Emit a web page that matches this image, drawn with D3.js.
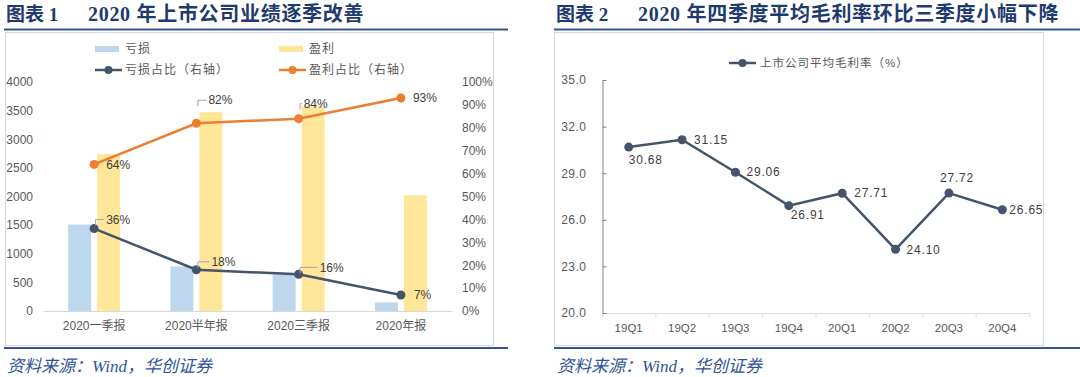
<!DOCTYPE html>
<html>
<head>
<meta charset="utf-8">
<script src="https://cdn.jsdelivr.net/npm/d3@7"></script>
<style>
  html, body { margin: 0; padding: 0; background: #fff; }
  svg { display: block; }
</style>
</head>
<body>
<svg id="chart" width="1080" height="377"></svg>
<script>
// ---- data: chart 1 ----
const categories = ['2020一季报', '2020半年报', '2020三季报', '2020年报'];
const lossCount = [1510, 780, 660, 150];
const profitCount = [2740, 3470, 3580, 2020];
const lossShare = [36, 18, 16, 7];
const profitShare = [64, 82, 84, 93];

// ---- data: chart 2 ----
const quarters = ['19Q1', '19Q2', '19Q3', '19Q4', '20Q1', '20Q2', '20Q3', '20Q4'];
const grossMargin = [30.68, 31.15, 29.06, 26.91, 27.71, 24.10, 27.72, 26.65];

const cjk = '"Liberation Sans", "Noto Sans CJK SC", sans-serif';
const titleFont = '"Liberation Serif", "Noto Sans CJK SC", serif';
const textColor = '#595959';
const navy = '#2F5597';

const svg = d3.select('#chart');
svg.append('rect').attr('width', 1080).attr('height', 377).attr('fill', '#fff');

// ---- page furniture: titles, rules, boxes, sources ----
function frame(x0, x1, boxX0, boxX1, num, title) {
  svg.append('text')
    .attr('x', x0 + 2).attr('y', 21)
    .attr('font-family', titleFont).attr('font-size', '19px').attr('font-weight', 'bold')
    .attr('fill', '#1F3A6E')
    .text('图表 ' + num);
  svg.append('text')
    .attr('x', x0 + 84).attr('y', 21)
    .attr('font-family', titleFont).attr('font-size', '20px').attr('font-weight', 'bold')
    .attr('letter-spacing', '0.7px')
    .attr('fill', '#1F3A6E')
    .text(title);
  svg.append('line')
    .attr('x1', x0).attr('x2', x1).attr('y1', 29.5).attr('y2', 29.5)
    .attr('stroke', navy).attr('stroke-width', 2);
  svg.append('rect')
    .attr('x', boxX0 + 0.5).attr('y', 32.5)
    .attr('width', boxX1 - boxX0).attr('height', 313)
    .attr('fill', 'none').attr('stroke', '#D9D9D9');
  svg.append('line')
    .attr('x1', x0).attr('x2', x1).attr('y1', 348).attr('y2', 348)
    .attr('stroke', navy).attr('stroke-width', 2);
  svg.append('text')
    .attr('x', x0 + 3).attr('y', 372)
    .attr('font-family', '"Liberation Serif", "Noto Sans CJK SC", serif')
    .attr('font-size', '17px').attr('font-style', 'italic')
    .attr('fill', '#2F5597')
    .text('资料来源：Wind，华创证券');
}
frame(4, 508, 5, 493, '1', '2020 年上市公司业绩逐季改善');
frame(554, 1080, 554, 1043, '2', '2020 年四季度平均毛利率环比三季度小幅下降');

// ================= chart 1 =================
const c1 = { left: 43, right: 452, top: 82, bottom: 311 };

const x1 = d3.scaleBand()
  .domain(categories)
  .range([c1.left, c1.right]);

const yL = d3.scaleLinear().domain([0, 4000]).range([c1.bottom, c1.top]);
const yR = d3.scaleLinear().domain([0, 100]).range([c1.bottom, c1.top]);

const g1 = svg.append('g');

// left axis labels
g1.append('g')
  .attr('transform', `translate(${c1.left},0)`)
  .call(d3.axisLeft(yL).tickValues(d3.range(0, 4001, 500)).tickSize(0).tickPadding(10)
    .tickFormat(d3.format('d')))
  .call(g => g.select('.domain').remove())
  .selectAll('text')
  .attr('font-family', cjk).attr('font-size', '12px').attr('fill', textColor);

// right axis labels
g1.append('g')
  .attr('transform', `translate(${c1.right},0)`)
  .call(d3.axisRight(yR).tickValues(d3.range(0, 101, 10)).tickSize(0).tickPadding(10)
    .tickFormat(d => d + '%'))
  .call(g => g.select('.domain').remove())
  .selectAll('text')
  .attr('font-family', cjk).attr('font-size', '12px').attr('fill', textColor);

// bars
const barW = 23, gap = 3;
g1.selectAll('.loss')
  .data(categories)
  .enter().append('rect')
  .attr('x', d => x1(d) + x1.bandwidth() / 2 - gap - barW)
  .attr('y', (d, i) => yL(lossCount[i]))
  .attr('width', barW)
  .attr('height', (d, i) => c1.bottom - yL(lossCount[i]))
  .attr('fill', '#BDD7EE');

g1.selectAll('.profit')
  .data(categories)
  .enter().append('rect')
  .attr('x', d => x1(d) + x1.bandwidth() / 2 + gap)
  .attr('y', (d, i) => yL(profitCount[i]))
  .attr('width', barW)
  .attr('height', (d, i) => c1.bottom - yL(profitCount[i]))
  .attr('fill', '#FFE699');

// x baseline + category labels
g1.append('g')
  .attr('transform', `translate(0,${c1.bottom})`)
  .call(d3.axisBottom(x1).tickSize(0).tickPadding(10).tickSizeOuter(0))
  .call(g => g.select('.domain').attr('stroke', '#D9D9D9'))
  .selectAll('text')
  .attr('font-family', cjk).attr('font-size', '12px').attr('fill', textColor);

// share lines
const cx = d => x1(d) + x1.bandwidth() / 2;
function shareLine(values, color, labelPos) {
  const pts = categories.map((c, i) => [cx(c), yR(values[i])]);
  g1.append('path')
    .attr('d', d3.line()(pts))
    .attr('fill', 'none').attr('stroke', color).attr('stroke-width', 2.5);
  g1.selectAll(null)
    .data(pts).enter().append('circle')
    .attr('cx', d => d[0]).attr('cy', d => d[1]).attr('r', 4.5)
    .attr('fill', color);
  pts.forEach((p, i) => {
    const [dx, dy, leader] = labelPos[i];
    const lx = p[0] + dx, ly = p[1] + dy;
    if (leader) {
      g1.append('path')
        .attr('d', `M${p[0] + 1.5},${ly + 6}L${p[0] + 1.5},${ly}L${lx - 2},${ly}`)
        .attr('fill', 'none').attr('stroke', '#A6A6A6').attr('stroke-width', 1);
    }
    g1.append('text')
      .attr('x', lx).attr('y', ly).attr('dy', '0.35em')
      .attr('font-family', cjk).attr('font-size', '12px').attr('fill', '#404040')
      .text(values[i] + '%');
  });
}
shareLine(profitShare, '#ED7D31', [[12, 0, false], [12, -23, true], [5, -15, true], [12, 0, false]]);
shareLine(lossShare, '#44546A', [[12, -9, true], [15, -8, true], [21, -7, true], [13, 0, false]]);

// legend
const legend1 = [
  { x: 95, y: 49, type: 'bar', color: '#BDD7EE', text: '亏损' },
  { x: 279, y: 49, type: 'bar', color: '#FFE699', text: '盈利' },
  { x: 95, y: 70, type: 'line', color: '#44546A', text: '亏损占比（右轴）' },
  { x: 279, y: 70, type: 'line', color: '#ED7D31', text: '盈利占比（右轴）' }
];
legend1.forEach(l => {
  if (l.type === 'bar') {
    g1.append('rect').attr('x', l.x).attr('y', l.y - 3).attr('width', 24).attr('height', 6)
      .attr('fill', l.color);
  } else {
    g1.append('line').attr('x1', l.x).attr('x2', l.x + 27).attr('y1', l.y).attr('y2', l.y)
      .attr('stroke', l.color).attr('stroke-width', 2.5);
    g1.append('circle').attr('cx', l.x + 13.5).attr('cy', l.y).attr('r', 4).attr('fill', l.color);
  }
  g1.append('text')
    .attr('x', l.x + 30).attr('y', l.y).attr('dy', '0.35em')
    .attr('font-family', cjk).attr('font-size', '12px').attr('fill', textColor)
    .attr('letter-spacing', '1px')
    .text(l.text);
});

// ================= chart 2 =================
const c2 = { left: 602, right: 1029, top: 80, bottom: 313 };
const x2 = d3.scaleBand().domain(quarters).range([c2.left, c2.right]);
const y2 = d3.scaleLinear().domain([20, 35]).range([c2.bottom, c2.top]);

const g2 = svg.append('g');

// x axis with boundary ticks
g2.append('line')
  .attr('x1', c2.left).attr('x2', c2.right).attr('y1', c2.bottom + 0.5).attr('y2', c2.bottom + 0.5)
  .attr('stroke', '#D9D9D9');
g2.selectAll('.xt')
  .data(quarters.concat(['end']))
  .enter().append('line')
  .attr('x1', (d, i) => c2.left + i * x2.bandwidth() + 0.5)
  .attr('x2', (d, i) => c2.left + i * x2.bandwidth() + 0.5)
  .attr('y1', c2.bottom).attr('y2', c2.bottom + 4)
  .attr('stroke', '#D9D9D9');
g2.selectAll('.xl')
  .data(quarters)
  .enter().append('text')
  .attr('x', d => x2(d) + x2.bandwidth() / 2)
  .attr('y', c2.bottom + 15).attr('dy', '0.35em')
  .attr('text-anchor', 'middle')
  .attr('font-family', cjk).attr('font-size', '11.5px').attr('fill', textColor)
  .text(d => d);

// y axis
g2.append('g')
  .attr('transform', `translate(${c2.left + 0.5},0)`)
  .call(d3.axisLeft(y2).tickValues(d3.range(20, 35.01, 3)).tickSizeInner(-4).tickSizeOuter(0)
    .tickPadding(16).tickFormat(d3.format('.1f')))
  .call(g => g.select('.domain').attr('stroke', '#808080'))
  .call(g => g.selectAll('.tick line').attr('stroke', '#808080'))
  .selectAll('text')
  .attr('font-family', cjk).attr('font-size', '12px').attr('fill', textColor)
  .attr('letter-spacing', '0.5px');

// line
const pts2 = quarters.map((q, i) => [x2(q) + x2.bandwidth() / 2, y2(grossMargin[i])]);
g2.append('path')
  .attr('d', d3.line()(pts2))
  .attr('fill', 'none').attr('stroke', '#44546A').attr('stroke-width', 2.5);
g2.selectAll('.pt')
  .data(pts2).enter().append('circle')
  .attr('cx', d => d[0]).attr('cy', d => d[1]).attr('r', 4.5)
  .attr('fill', '#44546A');

const labelOffsets2 = [[0, 13], [12, 0], [11, 0], [2, 9], [12, 0], [11, 0], [-9, -15], [7, 0]];
pts2.forEach((p, i) => {
  g2.append('text')
    .attr('x', p[0] + labelOffsets2[i][0]).attr('y', p[1] + labelOffsets2[i][1]).attr('dy', '0.35em')
    .attr('font-family', cjk).attr('font-size', '12px').attr('fill', '#404040')
    .attr('letter-spacing', '0.8px')
    .text(d3.format('.2f')(grossMargin[i]));
});

// legend
g2.append('line').attr('x1', 729).attr('x2', 756).attr('y1', 63).attr('y2', 63)
  .attr('stroke', '#44546A').attr('stroke-width', 2.5);
g2.append('circle').attr('cx', 742.5).attr('cy', 63).attr('r', 4).attr('fill', '#44546A');
g2.append('text')
  .attr('x', 760).attr('y', 63).attr('dy', '0.35em')
  .attr('font-family', cjk).attr('font-size', '11.5px').attr('fill', textColor)
  .attr('letter-spacing', '1px')
  .text('上市公司平均毛利率（%）');
</script>
</body>
</html>
